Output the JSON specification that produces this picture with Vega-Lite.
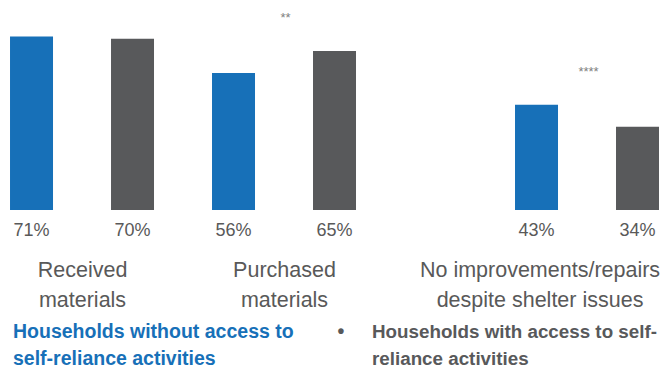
{
  "$schema": "https://vega.github.io/schema/vega-lite/v6.json",
  "width": 662,
  "height": 370,
  "autosize": "none",
  "padding": 0,
  "config": {"view": {"stroke": null}, "font": "Liberation Sans"},
  "datasets": {
    "bars": [
      {"slot": "R-without", "category": "Received materials", "group": "without", "value": 0.71},
      {"slot": "R-with", "category": "Received materials", "group": "with", "value": 0.70},
      {"slot": "P-without", "category": "Purchased materials", "group": "without", "value": 0.56},
      {"slot": "P-with", "category": "Purchased materials", "group": "with", "value": 0.65},
      {"slot": "N-without", "category": "No improvements/repairs despite shelter issues", "group": "without", "value": 0.43},
      {"slot": "N-with", "category": "No improvements/repairs despite shelter issues", "group": "with", "value": 0.34}
    ],
    "categories": [
      {"anchor": "R-without", "label": "Received\nmaterials", "part": "left"},
      {"anchor": "P-without", "label": "Purchased\nmaterials", "part": "left"},
      {"anchor": "N-without", "label": "No improvements/repairs\ndespite shelter issues", "part": "right"}
    ],
    "stars": [
      {"anchor": "P-without", "stars": "**", "top": 0.65},
      {"anchor": "N-without", "stars": "****", "top": 0.43}
    ],
    "legend": [
      {"anchor": "R-without", "group": "without", "label": "Households without access to\nself-reliance activities"},
      {"anchor": "P-with", "group": "with", "label": "Households with access to self-\nreliance activities"}
    ]
  },
  "layer": [
    {
      "data": {"name": "bars"},
      "mark": {"type": "bar"},
      "encoding": {
        "x": {"field": "slot", "type": "nominal", "axis": null,
              "scale": {"domain": ["R-without", "R-with", "P-without", "P-with", "gap", "N-without", "N-with"], "paddingInner": 0.5743, "paddingOuter": 0.0644, "align": 0.77}},
        "y": {"field": "value", "type": "quantitative", "axis": null,
              "scale": {"domain": [-0.6544, 0.8589], "nice": false, "zero": false}},
        "y2": {"datum": 0},
        "color": {"field": "group", "type": "nominal", "legend": null,
                  "scale": {"domain": ["without", "with"], "range": ["#1770B8", "#58595B"]}}
      }
    },
    {
      "data": {"name": "bars"},
      "mark": {"type": "text", "fontSize": 18, "color": "#595959", "align": "center", "baseline": "alphabetic", "dy": 26},
      "encoding": {
        "x": {"field": "slot", "type": "nominal"},
        "y": {"datum": 0, "type": "quantitative"},
        "text": {"field": "value", "type": "quantitative", "format": ".0%"}
      }
    },
    {
      "data": {"name": "stars"},
      "mark": {"type": "text", "fontSize": 13, "color": "#7F7F7F", "align": "center", "baseline": "alphabetic", "dx": 52, "dy": -29},
      "encoding": {
        "x": {"field": "anchor", "type": "nominal"},
        "y": {"field": "top", "type": "quantitative"},
        "text": {"field": "stars", "type": "nominal"}
      }
    },
    {
      "data": {"name": "categories"},
      "transform": [{"filter": "datum.part === 'left'"}],
      "mark": {"type": "text", "fontSize": 21.5, "color": "#595959", "align": "center", "baseline": "alphabetic", "lineBreak": "\n", "lineHeight": 30, "dx": 51, "dy": 67},
      "encoding": {
        "x": {"field": "anchor", "type": "nominal"},
        "y": {"datum": 0, "type": "quantitative"},
        "text": {"field": "label", "type": "nominal"}
      }
    },
    {
      "data": {"name": "categories"},
      "transform": [{"filter": "datum.part === 'right'"}],
      "mark": {"type": "text", "fontSize": 21.5, "color": "#595959", "align": "center", "baseline": "alphabetic", "lineBreak": "\n", "lineHeight": 30, "dx": 3.5, "dy": 67},
      "encoding": {
        "x": {"field": "anchor", "type": "nominal"},
        "y": {"datum": 0, "type": "quantitative"},
        "text": {"field": "label", "type": "nominal"}
      }
    },
    {
      "data": {"name": "legend"},
      "transform": [{"filter": "datum.group === 'without'"}],
      "mark": {"type": "text", "fontSize": 19.5, "fontWeight": "bold", "align": "left", "baseline": "alphabetic", "lineBreak": "\n", "lineHeight": 26.5, "dx": 3, "dy": 128},
      "encoding": {
        "x": {"field": "anchor", "type": "nominal", "bandPosition": 0},
        "y": {"datum": 0, "type": "quantitative"},
        "text": {"field": "label", "type": "nominal"},
        "color": {"field": "group", "type": "nominal", "legend": null}
      }
    },
    {
      "data": {"name": "legend"},
      "transform": [{"filter": "datum.group === 'with'"}],
      "mark": {"type": "text", "fontSize": 18.8, "fontWeight": "bold", "align": "left", "baseline": "alphabetic", "lineBreak": "\n", "lineHeight": 26.5, "dx": 59, "dy": 128},
      "encoding": {
        "x": {"field": "anchor", "type": "nominal", "bandPosition": 0},
        "y": {"datum": 0, "type": "quantitative"},
        "text": {"field": "label", "type": "nominal"},
        "color": {"field": "group", "type": "nominal", "legend": null}
      }
    },
    {
      "data": {"name": "legend"},
      "transform": [{"filter": "datum.group === 'with'"}],
      "mark": {"type": "text", "fontSize": 19.5, "fontWeight": "bold", "align": "center", "baseline": "alphabetic", "text": "•", "dx": 28, "dy": 128},
      "encoding": {
        "x": {"field": "anchor", "type": "nominal", "bandPosition": 0},
        "y": {"datum": 0, "type": "quantitative"},
        "color": {"field": "group", "type": "nominal", "legend": null}
      }
    }
  ]
}
